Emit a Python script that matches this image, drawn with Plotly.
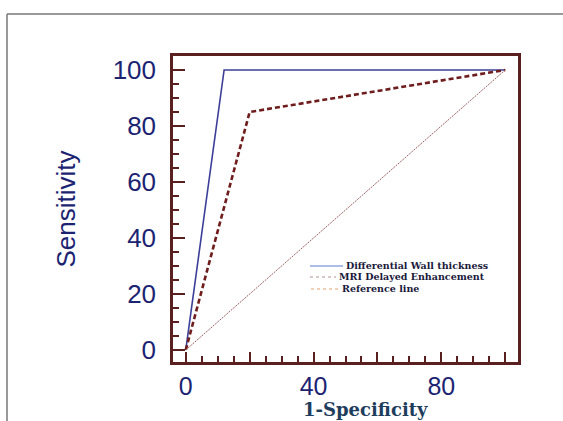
import plotly.graph_objects as go

# Data
dwt_x = [0, 12, 100]
dwt_y = [0, 100, 100]
mri_x = [0, 20, 100]
mri_y = [0, 85, 100]
ref_x = [0, 100]
ref_y = [0, 100]
series_names = ["Differential Wall thickness", "MRI Delayed Enhancement", "Reference line"]
x_tickvals = [0, 20, 40, 60, 80, 100]
x_ticktext = ["0", "", "40", "", "80", ""]
y_tickvals = [0, 20, 40, 60, 80, 100]

axis_col = "#5a1f1f"
label_col = "#1c2472"

W, H = 563, 421
# plot area in screen coords: left 173, right 518, top 56, bottom 362
L, T = 173, 56
R = W - 518
B = H - 362
pw, ph = W - L - R, H - T - B

def px(x):
    return (x - L) / pw

def py(y):
    return (H - B - y) / ph

fig = go.Figure()
fig.add_trace(go.Scatter(x=dwt_x, y=dwt_y, mode="lines", name=series_names[0],
                         line=dict(color="#3c3f98", width=1.6), showlegend=False))
fig.add_trace(go.Scatter(x=mri_x, y=mri_y, mode="lines", name=series_names[1],
                         line=dict(color="#6e1c1c", width=2.6, dash="5px,3px"), showlegend=False))
fig.add_trace(go.Scatter(x=ref_x, y=ref_y, mode="lines", name=series_names[2],
                         line=dict(color="#9c6262", width=1, dash="2px,1px"), showlegend=False))

# manual legend (screen coords)
leg_font = dict(family="DejaVu Serif", size=9.5, color="#1a1a3a", weight="bold")
leg_items = [
    (series_names[0], 310, 343, 266, dict(color="#5b7fd0", width=1.2)),
    (series_names[1], 310, 336, 277, dict(color="#b09090", width=1, dash="dot")),
    (series_names[2], 311, 339, 289, dict(color="#e0a070", width=1, dash="dot")),
]
shapes = [
    dict(type="line", xref="paper", yref="paper", x0=px(7), x1=px(570), y0=py(14), y1=py(14),
         line=dict(color="#777777", width=1.5)),
    dict(type="line", xref="paper", yref="paper", x0=px(7), x1=px(7), y0=py(14), y1=py(430),
         line=dict(color="#777777", width=1.5)),
]
annotations = []
for name, x0, x1, yy, ln in leg_items:
    shapes.append(dict(type="line", xref="paper", yref="paper", x0=px(x0), x1=px(x1),
                       y0=py(yy), y1=py(yy), line=ln))
    annotations.append(dict(text=name, xref="paper", yref="paper", x=px(x1 + 1), y=py(yy - 1),
                            xanchor="left", yanchor="middle", showarrow=False, font=leg_font))

# x-axis title (offset right of centre as in the original)
annotations.append(dict(text="1-Specificity", xref="paper", yref="paper", x=px(365), y=py(410),
                        xanchor="center", yanchor="middle", showarrow=False,
                        font=dict(family="DejaVu Serif", size=18, color="#1f3d5c", weight="bold")))

fig.update_layout(
    width=W, height=H,
    margin=dict(l=L, r=R, t=T, b=B, autoexpand=False),
    paper_bgcolor="white", plot_bgcolor="white",
    showlegend=False,
    xaxis=dict(range=[-4, 104], showgrid=False, zeroline=False, automargin=False,
               showline=True, mirror=True, linecolor=axis_col, linewidth=2.5,
               ticks="inside", ticklen=10, tickwidth=2, tickcolor=axis_col,
               tickvals=x_tickvals, ticktext=x_ticktext,
               minor=dict(dtick=5, tick0=0, ticks="inside", ticklen=6, tickwidth=1.5, tickcolor=axis_col),
               tickfont=dict(family="Liberation Sans", size=25, color=label_col)),
    yaxis=dict(range=[-4.3, 105], showgrid=False, zeroline=False, automargin=False,
               showline=True, mirror=True, linecolor=axis_col, linewidth=2.5,
               ticks="inside", ticklen=12, tickwidth=2, tickcolor=axis_col,
               tickvals=y_tickvals, ticklabelstandoff=9,
               minor=dict(dtick=5, tick0=0, ticks="inside", ticklen=6, tickwidth=1.5, tickcolor=axis_col),
               tickfont=dict(family="Liberation Sans", size=26, color=label_col),
               title=dict(text="Sensitivity", standoff=30,
                          font=dict(family="Liberation Sans", size=26, color=label_col))),
    shapes=shapes,
    annotations=annotations,
)

fig.write_html("out.html", config={"displayModeBar": False},
               post_script="document.body.style.margin='0';")
